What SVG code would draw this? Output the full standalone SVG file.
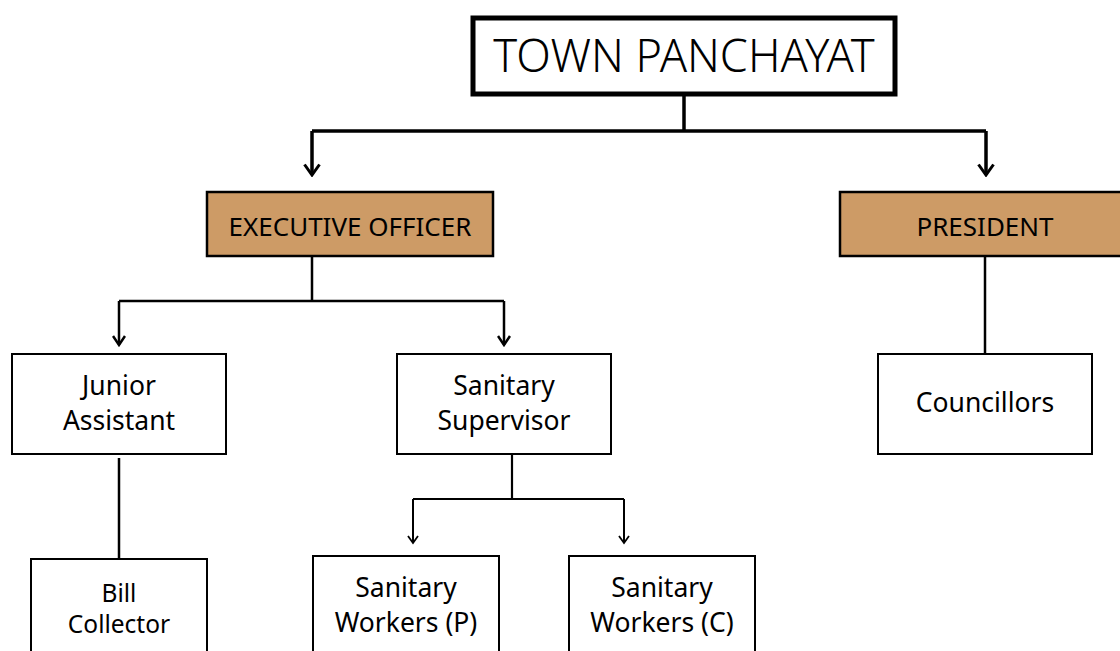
<svg xmlns="http://www.w3.org/2000/svg" width="1120" height="651" viewBox="0 0 1120 651">
<style>
.box{fill:#fff;stroke:#000;stroke-width:2}
.tan{fill:#CD9B66;stroke:#000;stroke-width:2.5}
.t{font-family:"Noto Sans","Open Sans",sans-serif;fill:#000;text-anchor:middle}
.c{fill:none;stroke:#000}
</style>
<defs>
<marker id="a" markerWidth="18" markerHeight="14" refX="9" refY="12" markerUnits="userSpaceOnUse" viewBox="0 0 18 14">
<path d="M1.5,1.5 L9,12 L16.5,1.5" fill="none" stroke="#000" stroke-width="3"/>
</marker>
<marker id="m" markerWidth="14" markerHeight="12" refX="7" refY="10" markerUnits="userSpaceOnUse" viewBox="0 0 14 12">
<path d="M1,1 L7,10 L13,1" fill="none" stroke="#000" stroke-width="2.5"/>
</marker>
<marker id="b" markerWidth="12" markerHeight="10" refX="6" refY="8" markerUnits="userSpaceOnUse" viewBox="0 0 12 10">
<path d="M1,1 L6,8 L11,1" fill="none" stroke="#000" stroke-width="1.8"/>
</marker>
</defs>
<rect width="1120" height="651" fill="#fff"/>
<g id="connectors">
<path class="c" stroke-width="3.5" d="M684,95 V131"/>
<path class="c" stroke-width="3.5" d="M312,131 H986"/>
<path class="c" stroke-width="3.5" d="M312,131 V175" marker-end="url(#a)"/>
<path class="c" stroke-width="3.5" d="M986,131 V175" marker-end="url(#a)"/>
<path class="c" stroke-width="2.5" d="M312,256 V301 M119,301 H504"/>
<path class="c" stroke-width="2.5" d="M119,301 V345" marker-end="url(#m)"/>
<path class="c" stroke-width="2.5" d="M504,301 V345" marker-end="url(#m)"/>
<path class="c" stroke-width="2.5" d="M985,256 V354"/>
<path class="c" stroke-width="2.5" d="M119,458 V559"/>
<path class="c" stroke-width="2.2" d="M512,454 V499 M413,499 H624"/>
<path class="c" stroke-width="2" d="M413,499 V543" marker-end="url(#b)"/>
<path class="c" stroke-width="2" d="M624,499 V543" marker-end="url(#b)"/>
</g>
<g id="town-panchayat">
<rect x="473" y="18" width="422" height="76" fill="#fff" stroke="#000" stroke-width="5"/>
<text class="t" x="684" y="72" font-size="45" font-weight="300">TOWN PANCHAYAT</text>
</g>
<g id="executive-officer">
<rect class="tan" x="207" y="192" width="286" height="64"/>
<text class="t" x="350" y="236" font-size="26">EXECUTIVE OFFICER</text>
</g>
<g id="president">
<rect class="tan" x="840" y="192" width="290" height="64" stroke-width="3.5"/>
<text class="t" x="985" y="236" font-size="26">PRESIDENT</text>
</g>
<g id="junior-assistant">
<rect class="box" x="12" y="354" width="214" height="100"/>
<text class="t" x="119" y="395" font-size="26.5">Junior</text>
<text class="t" x="119" y="430" font-size="26.5">Assistant</text>
</g>
<g id="sanitary-supervisor">
<rect class="box" x="397" y="354" width="214" height="100"/>
<text class="t" x="504" y="395" font-size="26.5">Sanitary</text>
<text class="t" x="504" y="430" font-size="26.5">Supervisor</text>
</g>
<g id="councillors">
<rect class="box" x="878" y="354" width="214" height="100"/>
<text class="t" x="985" y="412" font-size="26.5">Councillors</text>
</g>
<g id="bill-collector">
<rect class="box" x="31" y="559" width="176" height="100"/>
<text class="t" x="119" y="602" font-size="24.5">Bill</text>
<text class="t" x="119" y="633" font-size="24.5">Collector</text>
</g>
<g id="sanitary-workers-p">
<rect class="box" x="313" y="556" width="186" height="100"/>
<text class="t" x="406" y="597" font-size="26.5">Sanitary</text>
<text class="t" x="406" y="632" font-size="26.5">Workers (P)</text>
</g>
<g id="sanitary-workers-c">
<rect class="box" x="569" y="556" width="186" height="100"/>
<text class="t" x="662" y="597" font-size="26.5">Sanitary</text>
<text class="t" x="662" y="632" font-size="26.5">Workers (C)</text>
</g>
</svg>
